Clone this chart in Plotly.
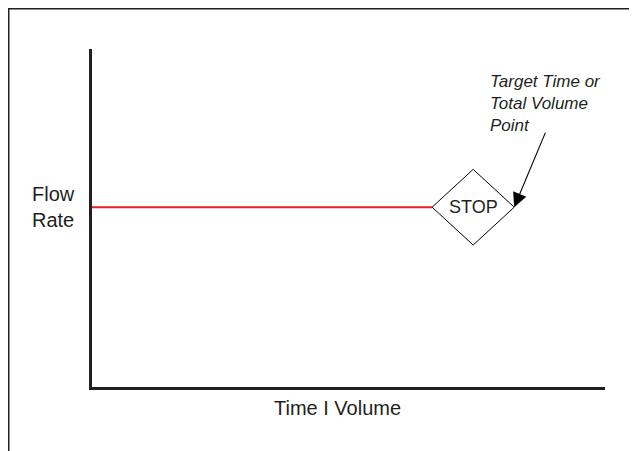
import plotly.graph_objects as go

# ---- data (conceptual diagram, axis units 0..100) ----
flow_time = [0, 66.3]          # red constant flow line: start / reaches STOP box
flow_rate = [53.2, 53.2]
stop_center = [74.3, 53.2]     # STOP diamond center
stop_half_size = [8.0, 11.2]   # half width (x units), half height (y units)
target_point = [82.3, 53.2]    # target time / total volume point (arrow tip)
arrow_tail = [88.5, 75.7]
target_label_pos = [77.2, 83.8]

x_title = "Time I Volume"
y_title = "Flow<br>Rate"
target_label = "Target Time or<br>Total Volume<br>Point"
stop_label = "STOP"

FONT = "Liberation Sans, Arial, Helvetica, sans-serif"
INK = "#231f20"

fig = go.Figure()

# constant flow rate line
fig.add_trace(go.Scatter(x=flow_time, y=flow_rate, mode="lines",
                         line=dict(color="#e31f26", width=2),
                         hoverinfo="skip", showlegend=False))

# STOP diamond
cx, cy = stop_center
hw, hh = stop_half_size
fig.add_trace(go.Scatter(x=[cx - hw, cx, cx + hw, cx, cx - hw],
                         y=[cy, cy + hh, cy, cy - hh, cy],
                         mode="lines", line=dict(color="#000000", width=1),
                         hoverinfo="skip", showlegend=False))

fig.add_annotation(x=cx, y=cy, xref="x", yref="y", text=stop_label,
                   showarrow=False, font=dict(family=FONT, size=18, color=INK))

# arrow to the target point
fig.add_annotation(x=target_point[0], y=target_point[1], xref="x", yref="y",
                   ax=arrow_tail[0], ay=arrow_tail[1], axref="x", ayref="y",
                   text="", showarrow=True, arrowhead=2, arrowsize=2.6,
                   arrowwidth=1.1, arrowcolor="#000000", standoff=0)

fig.add_annotation(x=target_label_pos[0], y=target_label_pos[1], xref="x", yref="y",
                   text="<i>" + target_label + "</i>", showarrow=False,
                   xanchor="left", yanchor="middle", align="left",
                   font=dict(family=FONT, size=17, color=INK))

# axis titles
fig.add_annotation(x=-0.121, y=flow_rate[0], xref="paper", yref="y",
                   text=y_title, showarrow=False, xanchor="left", yanchor="middle",
                   align="left", font=dict(family=FONT, size=20, color=INK))
fig.add_annotation(x=0.478, y=-0.062, xref="paper", yref="paper",
                   text=x_title, showarrow=False, xanchor="center", yanchor="middle",
                   font=dict(family=FONT, size=20, color=INK))

# outer frame (top and left edges visible)
fig.add_shape(type="rect", xref="paper", yref="paper",
              x0=-0.1623, x1=1.2, y0=-0.4, y1=1.119,
              line=dict(color=INK, width=1.5), fillcolor="rgba(0,0,0,0)")

fig.update_xaxes(range=[0, 100], showline=True, linecolor=INK, linewidth=2.5,
                 showgrid=False, zeroline=False, showticklabels=False, ticks="")
fig.update_yaxes(range=[0, 100], showline=True, linecolor=INK, linewidth=2.5,
                 showgrid=False, zeroline=False, showticklabels=False, ticks="")

fig.update_layout(width=629, height=443, autosize=False,
                  margin=dict(l=84, r=32, t=41, b=64),
                  plot_bgcolor="white", paper_bgcolor="white",
                  showlegend=False)

fig.write_html("out.html", config={"displayModeBar": False})
